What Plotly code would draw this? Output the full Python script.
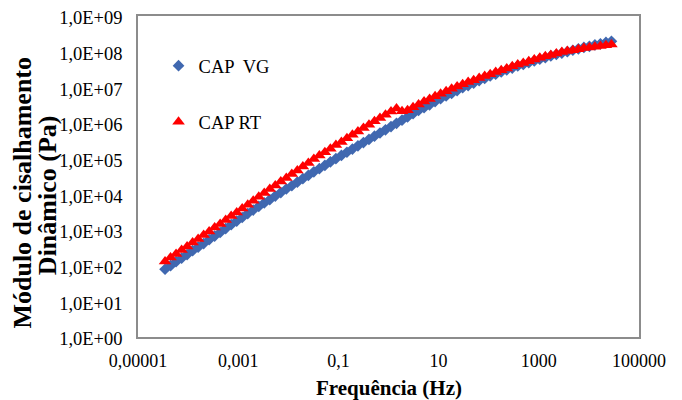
import plotly.graph_objects as go

# Frequency (Hz) of each point of the master curves
freq_hz = [
    3.467e-05, 4.467e-05, 5.754e-05, 7.413e-05, 9.550e-05,
    1.230e-04, 1.585e-04, 2.042e-04, 2.630e-04, 3.388e-04,
    4.365e-04, 5.623e-04, 7.244e-04, 9.333e-04, 1.202e-03,
    1.549e-03, 1.995e-03, 2.570e-03, 3.311e-03, 4.266e-03,
    5.495e-03, 7.079e-03, 9.120e-03, 1.175e-02, 1.514e-02,
    1.950e-02, 2.512e-02, 3.236e-02, 4.169e-02, 5.370e-02,
    6.918e-02, 8.913e-02, 0.1148, 0.1479, 0.1905,
    0.2455, 0.3162, 0.4074, 0.5248, 0.6761,
    0.8710, 1.122, 1.445, 1.862, 2.399,
    3.090, 3.981, 5.129, 6.607, 8.511,
    10.96, 14.13, 18.20, 23.44, 30.20,
    38.90, 50.12, 64.57, 83.18, 107.2,
    138.0, 177.8, 229.1, 295.1, 380.2,
    489.8, 631.0, 812.8, 1047, 1349,
    1738, 2239, 2884, 3715, 4786,
    6166, 7943, 10230, 13180, 16980,
    21880, 28180,
]

# Dynamic shear modulus (Pa), CAP VG
g_cap_vg = [
    79.4, 100, 129, 162, 204,
    263, 331, 417, 537, 676,
    851, 1096, 1413, 1778, 2239,
    2884, 3631, 4571, 5754, 7079,
    8913, 11220, 14130, 17380, 21880,
    27540, 33880, 42660, 52480, 64570,
    81280, 100000, 123000, 151400, 186200,
    229100, 281800, 346700, 426600, 524800,
    645700, 794300, 977200, 1.202e6, 1.479e6,
    1.820e6, 2.239e6, 2.692e6, 3.236e6, 3.981e6,
    4.786e6, 5.754e6, 6.761e6, 8.128e6, 9.772e6,
    1.122e7, 1.318e7, 1.549e7, 1.778e7, 2.089e7,
    2.344e7, 2.692e7, 3.090e7, 3.467e7, 3.981e7,
    4.365e7, 4.898e7, 5.495e7, 6.166e7, 6.761e7,
    7.586e7, 8.318e7, 9.120e7, 1.000e8, 1.096e8,
    1.202e8, 1.318e8, 1.413e8, 1.549e8, 1.660e8,
    1.820e8, 1.950e8,
]

# Dynamic shear modulus (Pa), CAP RT
g_cap_rt = [
    131.8, 169.8, 213.8, 275.4, 346.7,
    446.7, 562.3, 724.4, 912.0, 1175,
    1479, 1905, 2455, 3090, 3981,
    5129, 6607, 8511, 10960, 14130,
    17780, 22910, 28840, 37150, 46770,
    60260, 75860, 97720, 123000, 151400,
    190500, 239900, 295100, 371500, 467700,
    575400, 724400, 891300, 1.122e6, 1.380e6,
    1.698e6, 2.089e6, 2.570e6, 2.138e6, 2.291e6,
    2.754e6, 3.311e6, 3.981e6, 4.677e6, 5.623e6,
    6.607e6, 7.762e6, 9.120e6, 1.047e7, 1.230e7,
    1.413e7, 1.585e7, 1.820e7, 2.089e7, 2.344e7,
    2.692e7, 3.020e7, 3.388e7, 3.890e7, 4.365e7,
    4.786e7, 5.370e7, 6.026e7, 6.761e7, 7.413e7,
    8.128e7, 8.913e7, 9.772e7, 1.047e8, 1.096e8,
    1.175e8, 1.259e8, 1.318e8, 1.380e8, 1.445e8,
    1.514e8, 1.585e8,
]

series_names = ["CAP  VG", "CAP RT"]

x_tick_vals = [1e-5, 1e-3, 1e-1, 10, 1000, 100000]
x_tick_text = ["0,00001", "0,001", "0,1", "10", "1000", "100000"]
y_tick_vals = [1e0, 1e1, 1e2, 1e3, 1e4, 1e5, 1e6, 1e7, 1e8, 1e9]
y_tick_text = ["1,0E+00", "1,0E+01", "1,0E+02", "1,0E+03", "1,0E+04",
               "1,0E+05", "1,0E+06", "1,0E+07", "1,0E+08", "1,0E+09"]

x_title = "Frequência (Hz)"
y_title_lines = ["Módulo de cisalhamento", "Dinâmico (Pa)"]

FONT = "Liberation Serif, Times New Roman, serif"
BLUE = "#4068B0"
RED = "#FF0000"

fig = go.Figure()
fig.add_trace(go.Scatter(
    x=freq_hz, y=g_cap_vg, mode="markers", name=series_names[0],
    legendgroup="vg",
    marker=dict(symbol="diamond", size=9, color=BLUE, line=dict(width=0)),
))
fig.add_trace(go.Scatter(
    x=freq_hz, y=g_cap_rt, mode="markers", name=series_names[1],
    legendgroup="rt",
    marker=dict(symbol="triangle-up", size=11, color=RED, line=dict(width=0)),
))

axis_line = dict(showline=True, linecolor="#8C8C8C", linewidth=1.5, mirror=True,
                 showgrid=False, zeroline=False, ticks="", automargin=False,
                 ticklabeloverflow="allow")

fig.update_xaxes(type="log", range=[-5, 5], tickvals=x_tick_vals, ticktext=x_tick_text,
                 tickfont=dict(family=FONT, size=18, color="black"),
                 ticklabelstandoff=7, **axis_line)
fig.update_yaxes(type="log", range=[0, 9], tickvals=y_tick_vals, ticktext=y_tick_text,
                 tickfont=dict(family=FONT, size=18.5, color="black"),
                 ticklabelstandoff=10, ticklabelshift=2, **axis_line)

fig.add_annotation(text="<b>" + x_title + "</b>", xref="paper", yref="paper",
                   x=0.5, y=-0.16, xanchor="center", yanchor="middle",
                   showarrow=False, font=dict(family=FONT, size=21, color="black"))
for line_text, lx, ly in zip(y_title_lines, [-0.2295, -0.1816], [0.450, 0.442]):
    fig.add_annotation(text="<b>" + line_text + "</b>", xref="paper", yref="paper",
                       x=lx, y=ly, xanchor="center", yanchor="middle",
                       textangle=-90, showarrow=False,
                       font=dict(family=FONT, size=26, color="black"))

# The page body adds an 8 px offset; margins compensate so the plot area
# sits at x 138..639 and y 16..337 in the 682x400 window.
fig.update_layout(
    width=674, height=392,
    margin=dict(l=130, r=43, t=8, b=63, autoexpand=False),
    paper_bgcolor="white", plot_bgcolor="white",
    showlegend=True,
    legend=dict(x=0.041, y=0.903, xanchor="left", yanchor="top",
                bgcolor="rgba(0,0,0,0)", tracegroupgap=29,
                font=dict(family=FONT, size=18.5, color="black")),
)

fig.write_html("out.html")
